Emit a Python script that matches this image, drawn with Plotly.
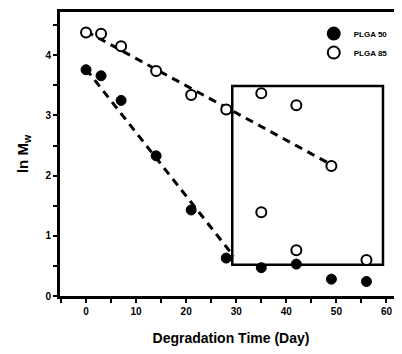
import plotly.graph_objects as go

days = [0, 3, 7, 14, 21, 28, 35, 42, 49, 56]
plga50 = [3.76, 3.66, 3.25, 2.33, 1.43, 0.63, 0.47, 0.53, 0.28, 0.24]

plga85_days = [0, 3, 7, 14, 21, 28, 35, 42, 49, 35, 42, 56]
plga85 = [4.38, 4.36, 4.15, 3.74, 3.34, 3.10, 3.37, 3.17, 2.16, 1.39, 0.76, 0.60]

fit50_x = [0, 29.5]
fit50_y = [3.77, 0.66]
fit85_x = [0, 48.6]
fit85_y = [4.40, 2.20]

box_x = [29.2, 59.3]
box_y = [0.52, 3.49]

fig = go.Figure()
fig.add_trace(go.Scatter(x=fit50_x, y=fit50_y, mode="lines", showlegend=False,
                         line=dict(color="black", width=3, dash="8px,6px")))
fig.add_trace(go.Scatter(x=fit85_x, y=fit85_y, mode="lines", showlegend=False,
                         line=dict(color="black", width=3, dash="8px,6px")))
fig.add_trace(go.Scatter(x=days, y=plga50, mode="markers", name="PLGA 50",
                         marker=dict(symbol="circle", size=10, color="black",
                                     line=dict(color="black", width=1))))
fig.add_trace(go.Scatter(x=plga85_days, y=plga85, mode="markers", name="PLGA 85",
                         marker=dict(symbol="circle", size=10, color="white",
                                     line=dict(color="black", width=2))))

fig.add_shape(type="rect", x0=box_x[0], x1=box_x[1], y0=box_y[0], y1=box_y[1],
              xref="x", yref="y", line=dict(color="black", width=2.5), layer="below")

font_bold = "Liberation Sans"
fig.update_layout(
    width=394, height=346,
    margin=dict(l=52, r=0, t=4, b=58),
    paper_bgcolor="white", plot_bgcolor="white",
    font=dict(family=font_bold, color="black"),
    legend=dict(x=0.742, y=0.975, xanchor="left", yanchor="top",
                bgcolor="rgba(0,0,0,0)", font=dict(size=8, family=font_bold, weight="bold"),
                itemsizing="constant", tracegroupgap=0),
    xaxis=dict(range=[-5.2, 63.1], showgrid=False, zeroline=False, automargin=False,
               showline=True, linecolor="black", linewidth=3, mirror=True,
               ticks="outside", ticklen=4, tickwidth=2, tickcolor="black",
               tickvals=[0, 10, 20, 30, 40, 50, 60],
               tickfont=dict(size=10, weight="bold"),
               minor=dict(ticks="outside", ticklen=4, tickwidth=2, tickcolor="black", dtick=5, tick0=0),
               title=dict(text="Degradation Time (Day)", font=dict(size=14, weight="bold"), standoff=18)),
    yaxis=dict(range=[0, 4.72], showgrid=False, zeroline=False, automargin=False,
               showline=True, linecolor="black", linewidth=3,
               ticks="outside", ticklen=4, tickwidth=2, tickcolor="black",
               tickvals=[0, 1, 2, 3, 4],
               tickfont=dict(size=10, weight="bold"),
               minor=dict(ticks="outside", ticklen=4, tickwidth=2, tickcolor="black", dtick=0.5, tick0=0),
               title=dict(text="ln M<sub>w</sub>", font=dict(size=15, weight="bold"), standoff=14)),
)

fig.write_html("out.html")
